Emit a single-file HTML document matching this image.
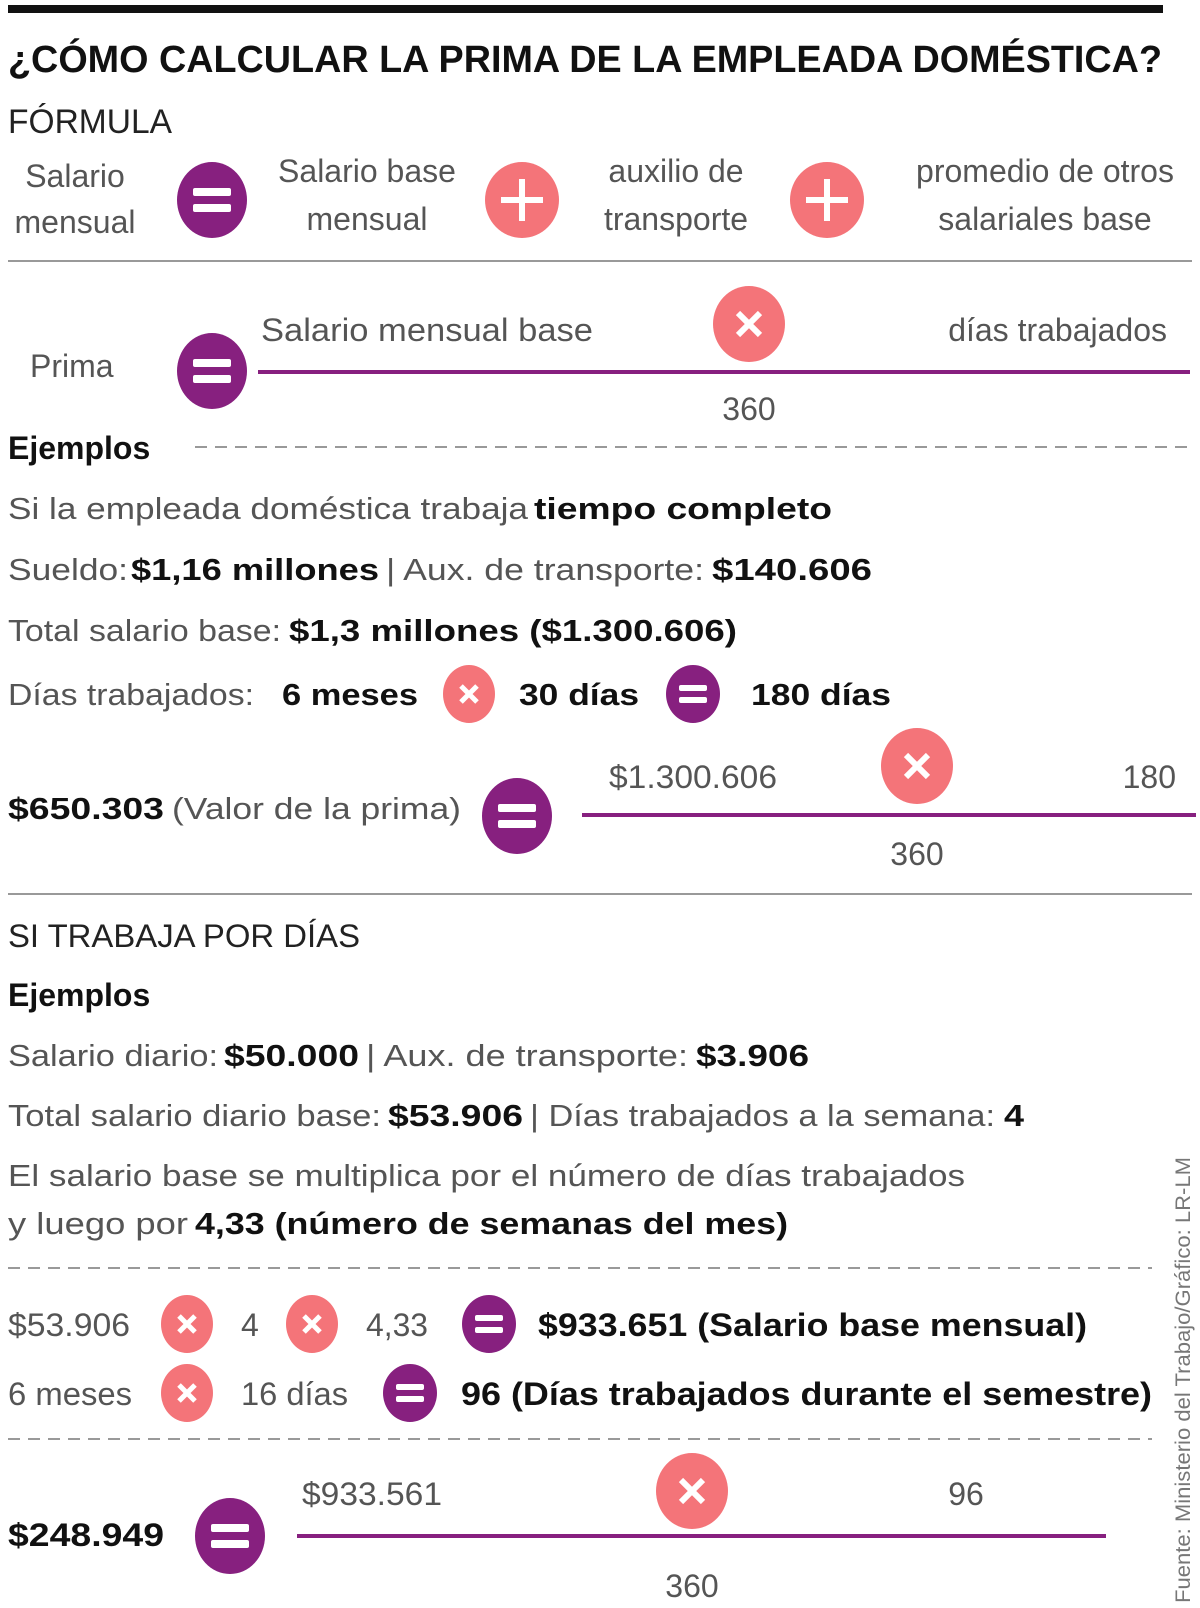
<!DOCTYPE html>
<html><head><meta charset="utf-8"><style>
html,body{margin:0;padding:0;background:#fff}
svg{display:block}
text{font-family:"Liberation Sans",sans-serif;fill:#555}
.b{font-weight:bold;fill:#111}
</style></head><body>
<svg width="1200" height="1608" viewBox="0 0 1200 1608" xmlns="http://www.w3.org/2000/svg">
<defs>
<g id="eq"><ellipse cx="0" cy="0" rx="35" ry="38" fill="#87207f"/><rect x="-19" y="-12" width="38" height="8" fill="#fff" rx="2"/><rect x="-19" y="4" width="38" height="8" fill="#fff" rx="2"/></g>
<g id="eqs"><ellipse cx="0" cy="0" rx="27" ry="29" fill="#87207f"/><rect x="-14" y="-9" width="28" height="6" fill="#fff" rx="2"/><rect x="-14" y="3" width="28" height="6" fill="#fff" rx="2"/></g>
<g id="pl"><ellipse cx="0" cy="0" rx="37" ry="38" fill="#f47479"/><rect x="-21" y="-3" width="42" height="6" fill="#fff"/><rect x="-3" y="-21" width="6" height="42" fill="#fff"/></g>
<g id="x"><ellipse cx="0" cy="0" rx="36" ry="38" fill="#f47479"/><path d="M-11,-11 L11,11 M11,-11 L-11,11" stroke="#fff" stroke-width="6"/></g>
<g id="xs"><ellipse cx="0" cy="0" rx="26" ry="29" fill="#f47479"/><path d="M-8,-8 L8,8 M8,-8 L-8,8" stroke="#fff" stroke-width="5"/></g>
</defs>
<rect x="8" y="5" width="1155" height="8" fill="#111"/>
<text x="8" y="72" font-size="38" class="b" textLength="1154" lengthAdjust="spacingAndGlyphs">¿CÓMO CALCULAR LA PRIMA DE LA EMPLEADA DOMÉSTICA?</text>
<text x="8" y="133" font-size="34" fill="#222" style="fill:#222" textLength="164" lengthAdjust="spacingAndGlyphs">FÓRMULA</text>
<g font-size="32" text-anchor="middle">
<text x="75" y="187">Salario</text><text x="75" y="233">mensual</text>
<text x="367" y="182">Salario base</text><text x="367" y="230">mensual</text>
<text x="676" y="182">auxilio de</text><text x="676" y="230">transporte</text>
<text x="1045" y="182">promedio de otros</text><text x="1045" y="230">salariales base</text>
</g>
<use href="#eq" x="212" y="200"/><use href="#pl" x="522" y="200"/><use href="#pl" x="827" y="200"/>
<rect x="8" y="260" width="1184" height="2" fill="#999"/>
<text x="30" y="377" font-size="32">Prima</text>
<use href="#eq" x="212" y="371"/>
<text x="261" y="341" font-size="32" textLength="332" lengthAdjust="spacingAndGlyphs">Salario mensual base</text>
<use href="#x" x="749" y="324"/>
<text x="1167" y="341" font-size="32" text-anchor="end">días trabajados</text>
<rect x="258" y="370" width="932" height="4" fill="#87207f"/>
<text x="749" y="420" font-size="32" text-anchor="middle">360</text>
<text x="8" y="459" font-size="32" class="b">Ejemplos</text>
<line x1="195" y1="447" x2="1190" y2="447" stroke="#999" stroke-width="2" stroke-dasharray="12,8"/>
<g font-size="31">
<text y="519"><tspan x="8" textLength="520" lengthAdjust="spacingAndGlyphs">Si la empleada doméstica trabaja</tspan><tspan class="b" x="534" textLength="298" lengthAdjust="spacingAndGlyphs">tiempo completo</tspan></text>
<text y="580"><tspan x="8" textLength="120" lengthAdjust="spacingAndGlyphs">Sueldo:</tspan><tspan class="b" x="131" textLength="248" lengthAdjust="spacingAndGlyphs">$1,16 millones</tspan><tspan x="386" textLength="318" lengthAdjust="spacingAndGlyphs">| Aux. de transporte:</tspan><tspan class="b" x="712" textLength="160" lengthAdjust="spacingAndGlyphs">$140.606</tspan></text>
<text y="641"><tspan x="8" textLength="273" lengthAdjust="spacingAndGlyphs">Total salario base:</tspan><tspan class="b" x="289" textLength="448" lengthAdjust="spacingAndGlyphs">$1,3 millones ($1.300.606)</tspan></text>
<text y="705"><tspan x="8" textLength="246" lengthAdjust="spacingAndGlyphs">Días trabajados:</tspan><tspan class="b" x="282" textLength="136" lengthAdjust="spacingAndGlyphs">6 meses</tspan><tspan class="b" x="519" textLength="120" lengthAdjust="spacingAndGlyphs">30 días</tspan><tspan class="b" x="751" textLength="140" lengthAdjust="spacingAndGlyphs">180 días</tspan></text>
</g>
<use href="#xs" x="469" y="694"/><use href="#eqs" x="693" y="694"/>
<text y="819" font-size="31"><tspan class="b" x="8" textLength="156" lengthAdjust="spacingAndGlyphs">$650.303</tspan><tspan x="172" textLength="289" lengthAdjust="spacingAndGlyphs">(Valor de la prima)</tspan></text>
<use href="#eq" x="517" y="816"/>
<text x="609" y="788" font-size="32" textLength="168" lengthAdjust="spacingAndGlyphs">$1.300.606</text>
<use href="#x" x="917" y="766"/>
<text x="1176" y="788" font-size="32" text-anchor="end">180</text>
<rect x="582" y="813" width="614" height="4" fill="#87207f"/>
<text x="917" y="865" font-size="32" text-anchor="middle">360</text>
<rect x="8" y="893" width="1184" height="2" fill="#999"/>
<text x="8" y="947" font-size="32" style="fill:#222" textLength="352" lengthAdjust="spacingAndGlyphs">SI TRABAJA POR DÍAS</text>
<text x="8" y="1006" font-size="32" class="b">Ejemplos</text>
<g font-size="31">
<text y="1066"><tspan x="8" textLength="210" lengthAdjust="spacingAndGlyphs">Salario diario:</tspan><tspan class="b" x="224" textLength="135" lengthAdjust="spacingAndGlyphs">$50.000</tspan><tspan x="366" textLength="322" lengthAdjust="spacingAndGlyphs">| Aux. de transporte:</tspan><tspan class="b" x="696" textLength="113" lengthAdjust="spacingAndGlyphs">$3.906</tspan></text>
<text y="1126"><tspan x="8" textLength="373" lengthAdjust="spacingAndGlyphs">Total salario diario base:</tspan><tspan class="b" x="388" textLength="135" lengthAdjust="spacingAndGlyphs">$53.906</tspan><tspan x="530" textLength="465" lengthAdjust="spacingAndGlyphs">| Días trabajados a la semana:</tspan><tspan class="b" x="1004" textLength="20" lengthAdjust="spacingAndGlyphs">4</tspan></text>
<text x="8" y="1186" textLength="957" lengthAdjust="spacingAndGlyphs">El salario base se multiplica por el número de días trabajados</text>
<text y="1234"><tspan x="8" textLength="180" lengthAdjust="spacingAndGlyphs">y luego por</tspan><tspan class="b" x="195" textLength="593" lengthAdjust="spacingAndGlyphs">4,33 (número de semanas del mes)</tspan></text>
</g>
<line x1="8" y1="1268" x2="1152" y2="1268" stroke="#999" stroke-width="2" stroke-dasharray="12,8"/>
<g font-size="32">
<text x="8" y="1336" textLength="122" lengthAdjust="spacingAndGlyphs">$53.906</text>
<text x="241" y="1336">4</text>
<text x="366" y="1336" textLength="62" lengthAdjust="spacingAndGlyphs">4,33</text>
<text x="538" y="1336" class="b" textLength="549" lengthAdjust="spacingAndGlyphs">$933.651 (Salario base mensual)</text>
<text x="8" y="1405" textLength="124" lengthAdjust="spacingAndGlyphs">6 meses</text>
<text x="241" y="1405" textLength="107" lengthAdjust="spacingAndGlyphs">16 días</text>
<text x="461" y="1405" class="b" textLength="691" lengthAdjust="spacingAndGlyphs">96 (Días trabajados durante el semestre)</text>
</g>
<use href="#xs" x="187" y="1324"/><use href="#xs" x="312" y="1324"/><use href="#eqs" x="489" y="1324"/>
<use href="#xs" x="187" y="1393"/><use href="#eqs" x="410" y="1393"/>
<line x1="8" y1="1439" x2="1152" y2="1439" stroke="#999" stroke-width="2" stroke-dasharray="12,8"/>
<text x="8" y="1546" font-size="32" class="b" textLength="156" lengthAdjust="spacingAndGlyphs">$248.949</text>
<use href="#eq" x="230" y="1536"/>
<text x="302" y="1505" font-size="32" textLength="140" lengthAdjust="spacingAndGlyphs">$933.561</text>
<use href="#x" x="692" y="1491"/>
<text x="966" y="1505" font-size="32" text-anchor="middle">96</text>
<rect x="297" y="1534" width="809" height="4" fill="#87207f"/>
<text x="692" y="1597" font-size="32" text-anchor="middle">360</text>
<text transform="translate(1190,1603) rotate(-90)" font-size="21" style="fill:#777" textLength="446" lengthAdjust="spacingAndGlyphs">Fuente: Ministerio del Trabajo/Gráfico: LR-LM</text>
</svg>
</body></html>
